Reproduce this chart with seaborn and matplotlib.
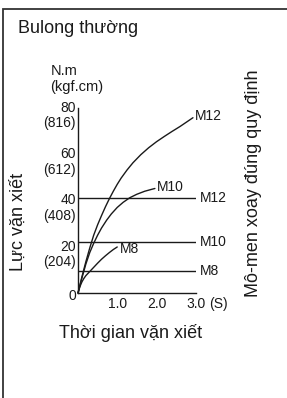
import matplotlib
matplotlib.use("Agg")
import matplotlib.pyplot as plt
import matplotlib.patches as patches
import matplotlib.transforms as mtransforms
import seaborn as sns
import numpy as np
import pandas as pd

# 数据：拧紧力矩曲线 (时间 s, 力矩 N.m)
m12_t = [0, 0.1, 0.2, 0.3, 0.4, 0.5, 0.6, 0.7, 0.8, 0.9, 1.0, 1.1, 1.25, 1.4, 1.6,
         1.8, 2.0, 2.2, 2.4, 2.6, 2.8, 2.93]
m12_v = [0, 7, 13.5, 19.5, 25, 29.5, 33.5, 37.3, 40.8, 44, 47, 49.7, 53.2, 56.3, 59.8,
         62.8, 65.4, 67.7, 69.9, 72, 74.3, 75.8]
m10_t = [0, 0.1, 0.2, 0.3, 0.4, 0.5, 0.6, 0.73, 0.85, 1.0, 1.15, 1.32, 1.5, 1.7, 1.85, 1.96]
m10_v = [0, 6.5, 12.5, 17.5, 21.5, 25, 28.1, 31.5, 34.2, 37, 39.2, 41.2, 42.7, 44, 44.7, 45.2]
m8_t = [0, 0.05, 0.1, 0.15, 0.2, 0.3, 0.4, 0.5, 0.6, 0.7, 0.8, 0.9, 1.0]
m8_v = [0, 2.8, 4.8, 6.3, 7.5, 9.3, 11.1, 12.9, 14.6, 16.1, 17.5, 18.8, 19.9]

# 规定力矩
spec_names = ["M12", "M10", "M8"]
spec_vals = [41, 22, 9.5]

y_ticks = [20, 40, 60, 80]
y_kgf = ["(204)", "(408)", "(612)", "(816)"]
x_ticks = [1.0, 2.0, 3.0]
x_labels = ["1.0", "2.0", "3.0"]

curves = pd.concat([
    pd.DataFrame({"t": m12_t, "v": m12_v, "bolt": "M12"}),
    pd.DataFrame({"t": m10_t, "v": m10_v, "bolt": "M10"}),
    pd.DataFrame({"t": m8_t, "v": m8_v, "bolt": "M8"}),
])

sns.set_theme(style="white")
plt.rcParams["font.family"] = ["Liberation Sans", "DejaVu Sans"]
ink = "#1a1a1a"

W, H = 287, 398
fig = plt.figure(figsize=(W / 100, H / 100), dpi=100)

# 坐标轴位置 (像素换算)
x0, x3, y0, y80 = 78, 195.7, 293, 108
ax = fig.add_axes([x0 / W, (H - y0) / H, (x3 - x0) / W, (y0 - y80) / H])
ax.set_xlim(0, 3)
ax.set_ylim(0, 80)
ax.patch.set_alpha(0)

for bolt, g in curves.groupby("bolt", sort=False):
    sns.lineplot(data=g, x="t", y="v", ax=ax, color=ink, lw=1.0, sort=False,
                 estimator=None, legend=False, clip_on=False)

ax.hlines(spec_vals, 0, 3, color=ink, lw=1.0)
for name, v in zip(spec_names, spec_vals):
    ax.text(3.1, v, name, fontsize=10, va="center", ha="left", color=ink)

# 曲线标注
ends = {"M12": (m12_t[-1], m12_v[-1] + 0.8),
        "M10": (m10_t[-1], m10_v[-1] + 0.8),
        "M8": (m8_t[-1], m8_v[-1] - 0.8)}
for name, (t, v) in ends.items():
    ax.text(t + 0.06, v, name, fontsize=10, va="center", ha="left", color=ink)

for s in ["top", "right"]:
    ax.spines[s].set_visible(False)
for s in ["left", "bottom"]:
    ax.spines[s].set_color(ink)
    ax.spines[s].set_linewidth(1.0)

ax.set_xticks(x_ticks)
ax.set_xticklabels(x_labels, fontsize=10, color=ink)
ax.set_yticks(y_ticks)
ax.set_yticklabels([])
ax.tick_params(axis="both", direction="in", length=3, width=1.0, color=ink)
ax.tick_params(axis="x", pad=3)
ax.set_xlabel("")
ax.set_ylabel("")

# "(S)" 跟在 3.0 后面
s_tr = mtransforms.blended_transform_factory(ax.transData, ax.transAxes)
s_tr = mtransforms.offset_copy(s_tr, fig=fig, x=9.5, y=-3, units="points")
ax.text(3.0, 0, "(S)", transform=s_tr, fontsize=10, ha="left", va="top", color=ink)

# y 刻度标签 (两行)
lab_tr = mtransforms.offset_copy(ax.transData, fig=fig, x=-1.5, y=0, units="points")
low_tr = mtransforms.offset_copy(ax.transData, fig=fig, x=-1.5, y=-11, units="points")
for v, k in zip(y_ticks, y_kgf):
    ax.text(0, v, str(v), transform=lab_tr, fontsize=10, ha="right", va="center", color=ink)
    ax.text(0, v, k, transform=low_tr, fontsize=10, ha="right", va="center", color=ink)
ax.text(0, -1.5, "0", transform=lab_tr, fontsize=10, ha="right", va="center", color=ink)

# 文本
def fx(px):
    return px / W

def fy(py):
    return 1 - py / H

fig.text(fx(18), fy(33), "Bulong thường", fontsize=13, ha="left", va="baseline", color=ink)
fig.text(fx(51), fy(75), "N.m", fontsize=10.5, ha="left", va="baseline", color=ink)
fig.text(fx(50), fy(91.5), "(kgf.cm)", fontsize=10.5, ha="left", va="baseline", color=ink)
fig.text(fx(18), fy(222), "Lực vặn xiết", fontsize=13, rotation=90, ha="center", va="center", color=ink)
fig.text(fx(254), fy(183), "Mô-men xoay đúng quy định", fontsize=13, rotation=90,
         ha="center", va="center", color=ink)
fig.text(fx(131), fy(333), "Thời gian vặn xiết", fontsize=13, ha="center", va="center", color=ink)

# 外框
fig.add_artist(patches.Rectangle((fx(3), -0.1), 1.2, fy(9) + 0.1, transform=fig.transFigure,
                                 fill=False, lw=1.3, ec="#333333"))

fig.savefig("out.png", dpi=100)
